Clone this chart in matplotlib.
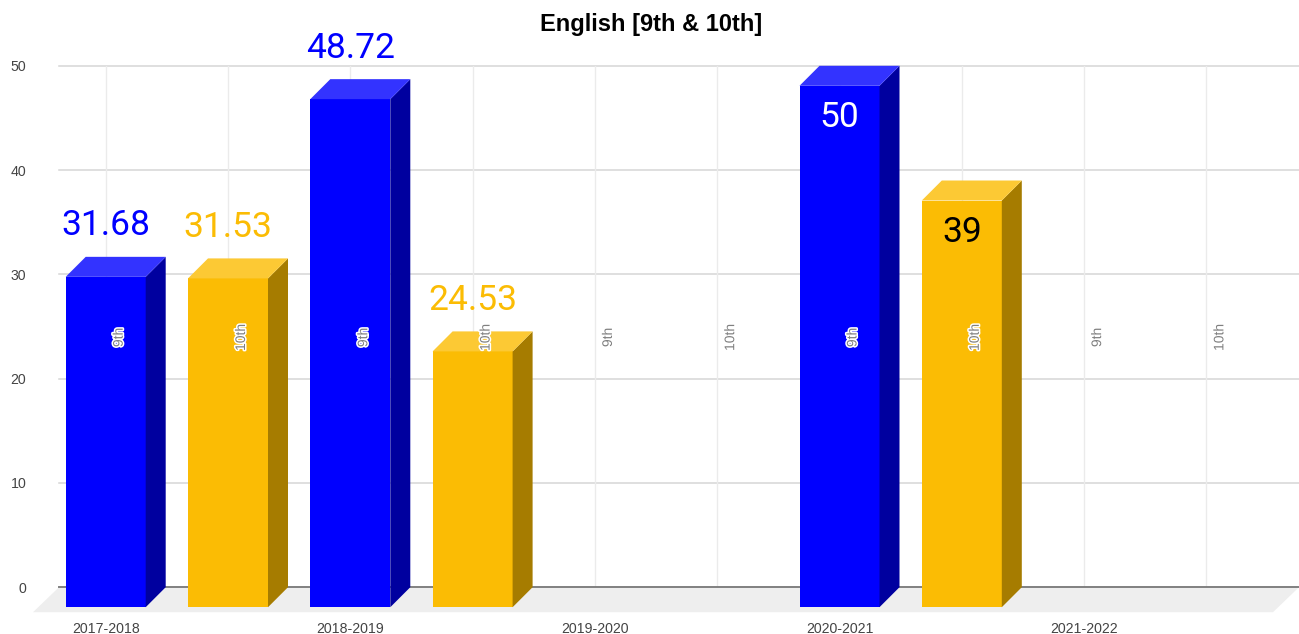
import numpy as np
import matplotlib
matplotlib.use("Agg")
import matplotlib.pyplot as plt
import matplotlib.patheffects as pe
from matplotlib.patches import Polygon

# data
years = ["2017-2018", "2018-2019", "2019-2020", "2020-2021", "2021-2022"]
grades = ["9th", "10th", "9th", "10th", "9th", "10th", "9th", "10th", "9th", "10th"]
labels_txt = ["31.68", "31.53", "48.72", "24.53", "", "", "50", "39", "", ""]
values = [31.68, 31.53, 48.72, 24.53, np.nan, np.nan, 50, 39, np.nan, np.nan]
yticks = [0, 10, 20, 30, 40, 50]

# colours: front, side, top
blue = ("#0000ff", "#00009f", "#3333ff")
gold = ("#fbbc04", "#a67c00", "#fcc934")

W, H = 1299, 634
slot = 122.3  # px per bar slot
x0 = 105.7  # px of first slot
y_top, y_zero = 65.8, 587.2
px_y = (y_zero - y_top) / 50

fig = plt.figure(figsize=(W / 100, H / 100), dpi=100)
ax = fig.add_axes([59 / W, 1 - y_zero / H, (W - 59) / W, (y_zero - y_top) / H])
ax.set_xlim((59 - x0) / slot, (W - x0) / slot)
ax.set_ylim(0, 50)
for s in ax.spines.values():
    s.set_visible(False)

dx = 20 / slot  # 3d depth
dy = 20 / px_y
bw = 80 / slot
pos = np.arange(len(values))

# grid
for v in yticks[1:]:
    ax.axhline(v, color="#d6d6d6", lw=1.1, zorder=1, clip_on=False)
for p in pos:
    ax.plot([p, p], [0, 50], color="#ebebeb", lw=1.0, zorder=1)

# floor
xa = ax.get_xlim()
floor = [(xa[0], 0), (xa[1], 0), (xa[1] - 26 / slot, -25 / px_y), (xa[0] - 26 / slot, -25 / px_y)]
ax.add_patch(Polygon(floor, closed=True, fc="#eeeeee", ec="none", zorder=1.5, clip_on=False))
ax.plot(xa, [0, 0], color="#808080", lw=1.4, zorder=2, clip_on=False)

# bars
for i, v in enumerate(values):
    if np.isnan(v):
        continue
    c = blue if i % 2 == 0 else gold
    l, r = i - bw / 2, i + bw / 2
    ax.bar(i, v, width=bw, bottom=-dy, color=c[0], zorder=3, clip_on=False)
    side = [(r, -dy), (r + dx, 0), (r + dx, v), (r, v - dy)]
    top = [(l, v - dy), (r, v - dy), (r + dx, v), (l + dx, v)]
    ax.add_patch(Polygon(side, closed=True, fc=c[1], ec="none", zorder=3, clip_on=False))
    ax.add_patch(Polygon(top, closed=True, fc=c[2], ec="none", zorder=3, clip_on=False))

# grade labels, halo like the original
for i, g in enumerate(grades):
    t = ax.text(i + 13 / slot, 23.95, g, rotation=90, ha="center", va="center",
                fontsize=10, family="Liberation Sans", color="#808080", zorder=5)
    t.set_path_effects([pe.withStroke(linewidth=2.2, foreground="white")])

# value labels
for i, (v, s) in enumerate(zip(values, labels_txt)):
    if s == "":
        continue
    if s == "50":
        col, off = "white", -32
    elif s == "39":
        col, off = "black", -32
    else:
        col, off = ("#0000ff" if i % 2 == 0 else "#fbbc04"), 51
    ax.annotate(s, (i, v - dy), xytext=(0, off * 0.72), textcoords="offset points",
                ha="center", va="center", fontsize=25.5, family="Roboto", color=col, zorder=6)

# ticks
ax.set_yticks(yticks)
ax.set_xticks(pos[::2])
ax.set_xticklabels(years)
ax.tick_params(axis="y", length=0, pad=23.5, labelsize=10.2, labelcolor="#444444")
ax.tick_params(axis="x", length=0, pad=25, labelsize=10.2, labelcolor="#444444")
for lab in ax.get_xticklabels() + ax.get_yticklabels():
    lab.set_family("Liberation Sans")

ax.set_title("English [9th & 10th]", x=(651 - 59) / (W - 59), pad=25,
             fontsize=17, fontweight="bold", family="Liberation Sans", color="black")

fig.savefig("out.png", dpi=100)
